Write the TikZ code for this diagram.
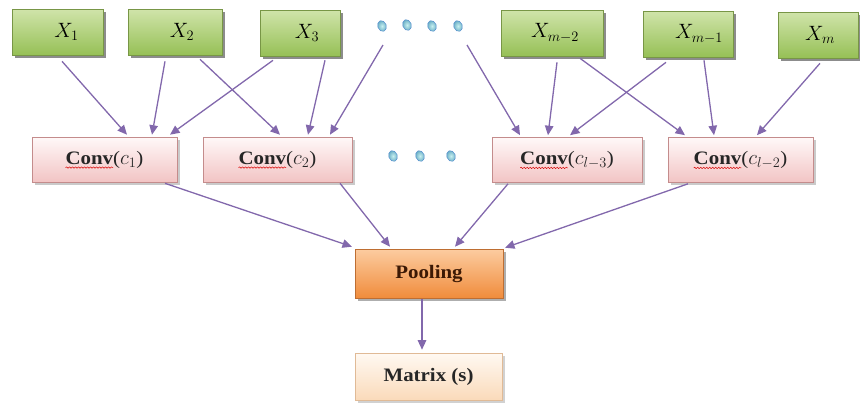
\documentclass[tikz,border=0pt]{standalone}
\usepackage{fontspec}
\setmainfont{Liberation Serif}[FakeStretch=1.1]
\usetikzlibrary{arrows.meta,shadows,decorations.pathmorphing}

% palette
\definecolor{arrowc}{RGB}{130,104,172}
\definecolor{xtop}{RGB}{208,228,170}
\definecolor{xbot}{RGB}{150,192,86}
\definecolor{xedge}{RGB}{120,150,70}
\definecolor{ctop}{RGB}{255,248,248}
\definecolor{cbot}{RGB}{242,196,196}
\definecolor{cedge}{RGB}{196,140,140}
\definecolor{ptop}{RGB}{252,204,160}
\definecolor{pbot}{RGB}{240,140,60}
\definecolor{pedge}{RGB}{190,110,50}
\definecolor{ptext}{RGB}{60,25,5}
\definecolor{mtop}{RGB}{255,249,242}
\definecolor{mbot}{RGB}{250,218,186}
\definecolor{medge}{RGB}{224,186,150}
\definecolor{dotin}{RGB}{200,240,240}
\definecolor{dotout}{RGB}{100,170,195}

% word with a red wavy underline
\newlength\spellwd
\newcommand\spellmark[1]{%
  \settowidth\spellwd{#1}%
  \rlap{\tikz[overlay]\draw[red!85!black,line width=0.5pt,decorate,
      decoration={snake,amplitude=0.7pt,segment length=3pt}]
      (0pt,-3.5pt) -- (\spellwd,-3.5pt);}#1}

% label set a little right of the box centre
\newcommand\offlabel[2]{\hspace*{#1}#2}

\tikzset{
  box/.style={draw, line width=0.6pt, minimum height=46pt, inner sep=2pt,
    font=\fontsize{19}{22}\selectfont},
  xbox/.style={box, draw=xedge, top color=xtop, bottom color=xbot,
    font=\fontsize{20.5}{22}\selectfont, text=black,
    drop shadow={shadow xshift=2.5pt, shadow yshift=-2.5pt, fill=black!60, opacity=0.75}},
  convbox/.style={box, draw=cedge, top color=ctop, bottom color=cbot,
    minimum height=45pt, text=black!85,
    drop shadow={shadow xshift=2.5pt, shadow yshift=-2.5pt, fill=black!35, opacity=0.6}},
  poolbox/.style={box, draw=pedge, top color=ptop, bottom color=pbot,
    minimum height=49pt, text=ptext,
    drop shadow={shadow xshift=2.5pt, shadow yshift=-2.5pt, fill=black!45, opacity=0.7}},
  matbox/.style={box, draw=medge, top color=mtop, bottom color=mbot,
    minimum height=47pt, text=black!85,
    drop shadow={shadow xshift=2.5pt, shadow yshift=-2.5pt, fill=black!30, opacity=0.6}},
  arr/.style={draw=arrowc, line width=1.3pt, -{Triangle[length=9.5pt,width=8.5pt,fill=arrowc]}},
  dotball/.style={inner color=dotin, outer color=dotout, draw=dotout!80!blue, line width=0.4pt},
}

\newcommand\conv[1]{\textbf{\spellmark{Conv}}({\fontsize{21}{22}\selectfont$#1$})}

\begin{document}
\begin{tikzpicture}[x=1pt,y=-1pt]
\useasboundingbox (0,0) rectangle (860,405);

% input features
\node[xbox, minimum width=91pt]  (x1)  at (57.5,32) {\offlabel{18pt}{$X_1$}};
\node[xbox, minimum width=94pt]  (x2)  at (175,32)  {\offlabel{14pt}{$X_2$}};
\node[xbox, minimum width=80pt]  (x3)  at (300,33)  {\offlabel{14pt}{$X_3$}};
\node[xbox, minimum width=102pt] (xm2) at (552,33)  {\offlabel{6pt}{$X_{m-2}$}};
\node[xbox, minimum width=90pt]  (xm1) at (688,34)  {\offlabel{22pt}{$X_{m-1}$}};
\node[xbox, minimum width=80pt]  (xm)  at (818,35)  {\offlabel{4pt}{$X_m$}};

% convolution filters
\node[convbox, minimum width=145pt] (c1)  at (104.5,159.5) {\conv{c_1}};
\node[convbox, minimum width=149pt] (c2)  at (277.5,159.5) {\conv{c_2}};
\node[convbox, minimum width=150pt] (cl3) at (567,160)     {\conv{c_{l-3}}};
\node[convbox, minimum width=145pt] (cl2) at (740.5,160)   {\conv{c_{l-2}}};

% pooling and output
\node[poolbox, minimum width=148pt] (pool) at (429,273.5) {\textbf{Pooling}};
\node[matbox,  minimum width=147pt] (mat)  at (428.5,376.5) {\textbf{Matrix (s)}};

% ellipsis dots
\foreach \px/\py in {382/26, 407/25, 432/26, 458/26, 393/156, 420/156, 451/156}
  \path[dotball] (\px,\py) ellipse [x radius=4.3pt, y radius=5.6pt, rotate=20];

% free ends coming from the elided inputs
\coordinate (dl) at (383,45);
\coordinate (dr) at (467,45);

% inputs to filters
\draw[arr] ([shift={(4.5,6)}]x1.south)  -- ([shift={(22.5,-2)}]c1.north);
\draw[arr] ([shift={(-10,6)}]x2.south)  -- ([shift={(47.5,-2)}]c1.north);
\draw[arr] ([shift={(-27,4)}]x3.south)  -- ([shift={(65.5,-2)}]c1.north);
\draw[arr] ([shift={(25,4)}]x2.south)   -- ([shift={(2.5,-2)}]c2.north);
\draw[arr] ([shift={(25,4)}]x3.south)   -- ([shift={(30.5,-2)}]c2.north);
\draw[arr] (dl)                         -- ([shift={(52.5,-2)}]c2.north);
\draw[arr] (dr)                         -- ([shift={(-47,-2)}]cl3.north);
\draw[arr] ([shift={(5,6)}]xm2.south)   -- ([shift={(-19,-2)}]cl3.north);
\draw[arr] ([shift={(-22,5)}]xm1.south) -- ([shift={(3,-2)}]cl3.north);
\draw[arr] ([shift={(28,2)}]xm2.south)  -- ([shift={(-55.5,-2)}]cl2.north);
\draw[arr] ([shift={(16,3)}]xm1.south)  -- ([shift={(-26.5,-2)}]cl2.north);
\draw[arr] ([shift={(2,5)}]xm.south)    -- ([shift={(16.5,-2)}]cl2.north);

% filters to pooling
\draw[arr] ([shift={(60.5,1)}]c1.south)   -- ([shift={(-77,-2)}]pool.north);
\draw[arr] ([shift={(62.5,1)}]c2.south)   -- ([shift={(-39,-2)}]pool.north);
\draw[arr] ([shift={(-59,1)}]cl3.south)   -- ([shift={(26,-2)}]pool.north);
\draw[arr] ([shift={(-52.5,1)}]cl2.south) -- ([shift={(76,-1)}]pool.north);

% pooling to output
\draw[arr] ([shift={(-7,1)}]pool.south) -- ([shift={(-6.5,-3)}]mat.north);
\end{tikzpicture}
\end{document}
